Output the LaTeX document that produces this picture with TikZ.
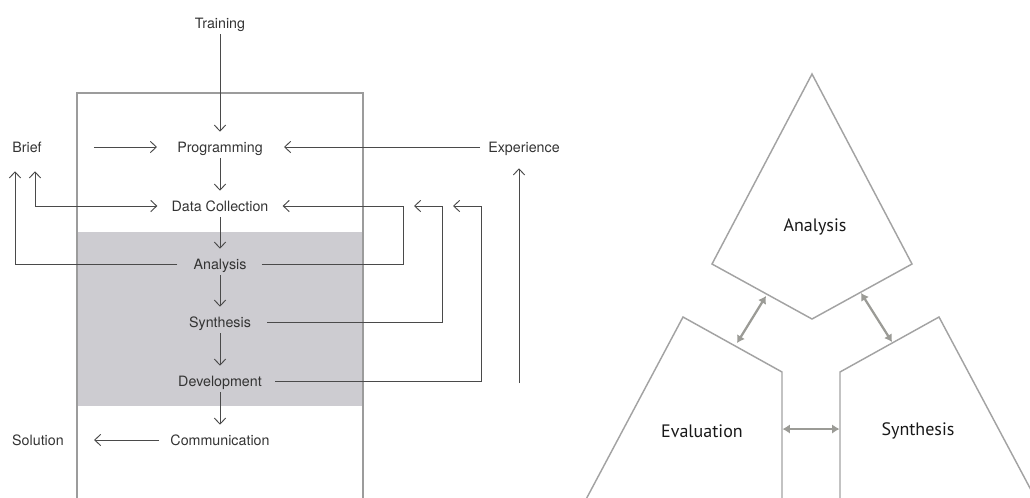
\documentclass[tikz,border=0pt]{standalone}
\usepackage{fontspec}
\setmainfont{TeX Gyre Heros}
\newfontfamily\shapefont{PT Sans}
\usetikzlibrary{arrows.meta,calc}

\definecolor{ink}{HTML}{333333}
\definecolor{lineink}{HTML}{4A4A4A}
\definecolor{framegrey}{HTML}{9C9C9C}
\definecolor{band}{HTML}{CDCCD1}
\definecolor{outline}{HTML}{A3A3A3}
\definecolor{bondgrey}{HTML}{9B9B96}

\begin{document}
\begin{tikzpicture}[
  x=0.75pt, y=-0.75pt,
  tag/.style={font=\fontsize{10.7pt}{12pt}\selectfont, text=ink, inner sep=0pt,
              text height=9.5pt, text depth=1pt},
  bigtag/.style={font=\shapefont\fontsize{13.5pt}{16pt}\selectfont, text=black!90, inner sep=0pt},
  wire/.style={draw=lineink, line width=0.7pt},
  arr/.style={wire, -{Straight Barb[length=4.5pt,width=8.5pt]}},
  darr/.style={wire, {Straight Barb[length=4.5pt,width=8.5pt]}-{Straight Barb[length=4.5pt,width=8.5pt]}},
  flow/.style={arr, shorten <=3pt, shorten >=6pt},
  framed/.style={draw=framegrey, line width=0.9pt},
  panel/.style={draw=outline, line width=1.1pt, line join=miter},
  bond/.style={draw=bondgrey, line width=1.7pt,
               {Latex[length=5.5pt,width=7pt]}-{Latex[length=5.5pt,width=7pt]}}
]
\useasboundingbox (0,0) rectangle (1030,497);

% ---------- process column ----------
\fill[band] (77,232) rectangle (363,406);
\draw[framed] (77,500) -- (77,93) -- (363,93) -- (363,500);

\node[tag] (train) at (220,23)  {Training};
\node[tag] (prog)  at (220,147) {Programming};
\node[tag] (dc)    at (220,206) {Data Collection};
\node[tag] (an)    at (220,264) {Analysis};
\node[tag] (syn)   at (220,322) {Synthesis};
\node[tag] (dev)   at (220,381) {Development};
\node[tag] (comm)  at (220,440) {Communication};
\node[tag] (brief) at (27,147)  {Brief};
\node[tag] (exp)   at (524,147) {Experience};
\node[tag] (sol)   at (38,440)  {Solution};

% main sequence
\draw[flow] (train) -- (prog);
\draw[flow] (prog) -- (dc);
\draw[flow] (dc) -- (an);
\draw[flow] (an) -- (syn);
\draw[flow] (syn) -- (dev);
\draw[flow] (dev) -- (comm);

% inputs and output
\draw[arr] ($(brief.east)+(52,0)$) -- ($(prog.west)+(-20,0)$);
\draw[arr] ($(exp.west)+(-8,0)$) -- ($(prog.east)+(21,0)$);
\draw[arr] ($(comm.west)+(-11,0)$) -- ($(sol.east)+(30,0)$);

% feedback to the brief
\coordinate (b1) at ($(brief.south)+(-12,17)$);
\coordinate (b2) at ($(brief.south)+(8,17)$);
\draw[darr] (b2) |- ($(dc.west)+(-14,0)$);
\draw[arr] ($(an.west)+(-16,0)$) -| (b1);

% feedback loops to data collection
\coordinate (lane1) at (403,206);
\coordinate (lane2) at (442,206);
\coordinate (lane3) at (481,206);
\coordinate (t2) at (414,206);
\coordinate (t3) at (453,206);
\draw[arr] ($(an.east)+(15,0)$) -| (lane1) -- ($(dc.east)+(14,0)$);
\draw[arr] ($(syn.east)+(16,0)$) -| (lane2) -- (t2);
\draw[arr] ($(dev.east)+(13,0)$) -| (lane3) -- (t3);

% growing experience
\coordinate (rise) at (519,383);
\draw[arr] (rise) -- ($(exp.south)+(-5,14)$);

% ---------- triad ----------
\draw[panel] (812,74) -- (912,264) -- (812,319) -- (712,264) -- cycle;
\draw[panel] (583,505) -- (683,317) -- (782,372) -- (782,505);
\draw[panel] (1039,505) -- (939,317) -- (840,372) -- (840,505);

\node[bigtag] (ta) at (815,227) {Analysis};
\node[bigtag] (te) at (702,431) {Evaluation};
\node[bigtag] (ts) at (918,431) {Synthesis};

\coordinate (eTop) at (737,343);
\coordinate (aLow) at (766,296);
\coordinate (aRow) at (861,293);
\coordinate (sTop) at (892,342);
\coordinate (eSide) at (782.5,429);
\coordinate (sSide) at (839.5,429);
\draw[bond] (eTop) -- (aLow);
\draw[bond] (aRow) -- (sTop);
\draw[bond] (eSide) -- (sSide);
\end{tikzpicture}
\end{document}
